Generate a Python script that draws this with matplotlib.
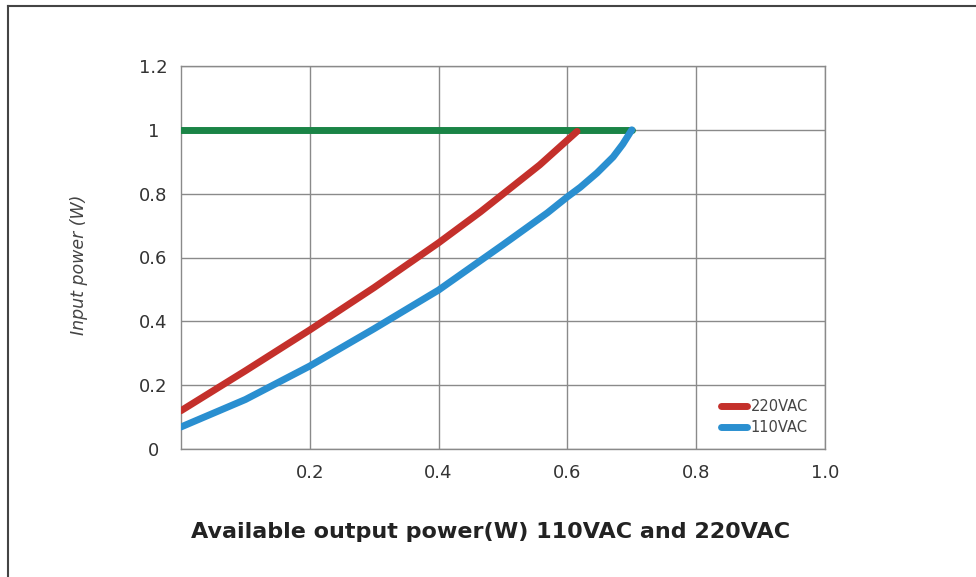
import matplotlib
matplotlib.use("Agg")
import matplotlib.pyplot as plt
from matplotlib.lines import Line2D

# Data
red_x = [0.0, 0.1, 0.2, 0.3, 0.4, 0.465, 0.507, 0.557, 0.615]
red_y = [0.12, 0.245, 0.373, 0.506, 0.646, 0.743, 0.81, 0.89, 0.995]
blue_x = [0.0, 0.1, 0.2, 0.3, 0.4, 0.5, 0.569, 0.6, 0.62, 0.646, 0.671, 0.686, 0.70]
blue_y = [0.069, 0.155, 0.26, 0.377, 0.498, 0.64, 0.74, 0.79, 0.82, 0.865, 0.915, 0.955, 1.0]
green_x = [0.0, 0.70]
green_y = [1.0, 1.0]
x_ticks = [0.2, 0.4, 0.6, 0.8, 1.0]
x_ticklabels = ["0.2", "0.4", "0.6", "0.8", "1.0"]
y_ticks = [0, 0.2, 0.4, 0.6, 0.8, 1.0, 1.2]
y_ticklabels = ["0", "0.2", "0.4", "0.6", "0.8", "1", "1.2"]

plt.rcParams['font.family'] = ['DejaVu Sans']

fig = plt.figure(figsize=(9.76, 5.77), dpi=100)
ax = fig.add_axes([181/976, 1 - 449/577, 644/976, 383/577])

lkw = dict(lw=5, solid_capstyle='round', solid_joinstyle='round')
ax.plot(green_x, green_y, color='#1a8446', zorder=3, **lkw)
ax.plot(red_x, red_y, color='#c4302b', label='220VAC', zorder=4, **lkw)
ax.plot(blue_x, blue_y, color='#2a8fd0', label='110VAC', zorder=4, **lkw)

ax.set_xlim(0, 1.0)
ax.set_ylim(0, 1.2)
ax.set_xticks(x_ticks)
ax.set_xticklabels(x_ticklabels)
ax.set_yticks(y_ticks)
ax.set_yticklabels(y_ticklabels, ha='center')
ax.tick_params(length=0, labelsize=13, labelcolor='#333333')
ax.tick_params(axis='x', pad=11)
ax.tick_params(axis='y', pad=20)
ax.grid(True, color='#8a8a8a', lw=1)
ax.set_axisbelow(True)
for s in ax.spines.values():
    s.set_color('#8a8a8a')
    s.set_linewidth(1)

ax.set_ylabel('Input power (W)', fontsize=12.5, style='italic', color='#444444')
ax.yaxis.set_label_coords(-0.145, 0.48)
ax.set_xlabel('Available output power(W) 110VAC and 220VAC', fontsize=16, fontweight='bold',
              color='#222222')
ax.xaxis.set_label_coords(0.48, -0.19)

leg = ax.legend(loc='lower right', bbox_to_anchor=(0.994, 0.003), frameon=False, fontsize=10.5,
                handlelength=1.8, handletextpad=0.25, labelspacing=0.4)
for t in leg.get_texts():
    t.set_color('#444444')

# Outer frame (top and left edges)
fig.add_artist(Line2D([8/976, 8/976], [0, 1 - 6/577], transform=fig.transFigure, color='#444444', lw=1.5))
fig.add_artist(Line2D([8/976, 1], [1 - 6/577, 1 - 6/577], transform=fig.transFigure, color='#444444', lw=1.5))

fig.savefig('out.png', dpi=100)
